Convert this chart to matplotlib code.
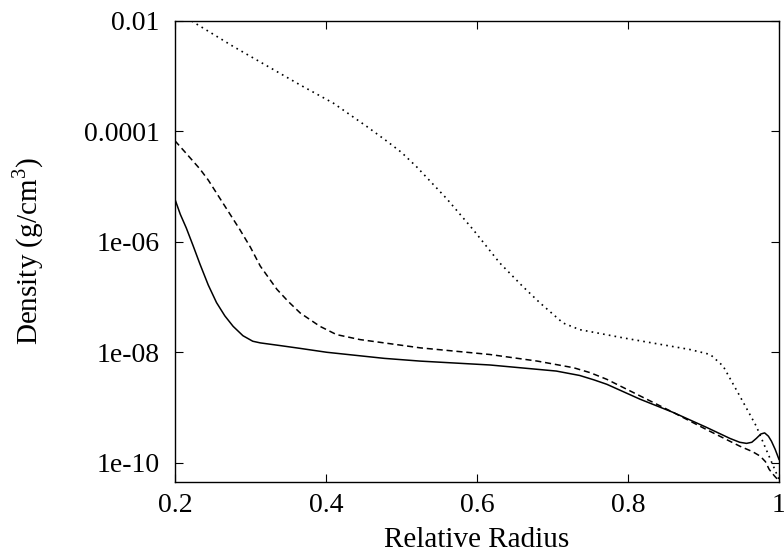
import numpy as np
import matplotlib.pyplot as plt

plt.rcParams['font.family'] = ['Liberation Serif', 'DejaVu Serif']
plt.rcParams['mathtext.fontset'] = 'custom'
plt.rcParams['mathtext.rm'] = 'Liberation Serif'

# radius samples and log10 density for each model
r_solid = [0.2, 0.207, 0.215, 0.224, 0.233, 0.244, 0.255, 0.266, 0.277, 0.29, 0.303, 0.313,
           0.34, 0.366, 0.401, 0.477, 0.525, 0.617, 0.705, 0.736, 0.755, 0.772, 0.816, 0.86,
           0.904, 0.935, 0.948, 0.957, 0.964, 0.970, 0.976, 0.981, 0.986, 0.990, 0.995, 1.0]
logrho_solid = [-5.23, -5.5, -5.75, -6.07, -6.4, -6.78, -7.1, -7.34, -7.53, -7.7, -7.8, -7.83,
                -7.88, -7.93, -8.0, -8.11, -8.16, -8.23, -8.34, -8.42, -8.5, -8.58, -8.85, -9.09,
                -9.36, -9.56, -9.63, -9.65, -9.63, -9.56, -9.48, -9.46, -9.52, -9.61, -9.76, -9.94]

r_dashed = [0.2, 0.215, 0.233, 0.244, 0.265, 0.286, 0.3, 0.313, 0.335, 0.35, 0.366, 0.392,
            0.414, 0.445, 0.525, 0.617, 0.68, 0.728, 0.75, 0.772, 0.816, 0.86, 0.904,
            0.948, 0.965, 0.975, 0.982, 0.987, 0.994, 1.0]
logrho_dashed = [-4.17, -4.4, -4.68, -4.88, -5.33, -5.78, -6.1, -6.44, -6.86, -7.08, -7.29, -7.53,
                 -7.68, -7.77, -7.92, -8.04, -8.16, -8.28, -8.37, -8.49, -8.79, -9.09, -9.4,
                 -9.7, -9.8, -9.88, -9.98, -10.12, -10.24, -10.33]

r_dotted = [0.222, 0.277, 0.366, 0.41, 0.454, 0.48, 0.5, 0.52, 0.56, 0.595, 0.63, 0.66, 0.683,
            0.714, 0.736, 0.794, 0.882, 0.909, 0.926, 0.948, 0.970, 0.983, 1.0]
logrho_dotted = [-2.0, -2.46, -3.16, -3.49, -3.91, -4.17, -4.38, -4.64, -5.22, -5.78, -6.38, -6.8, -7.1,
                 -7.47, -7.59, -7.74, -7.95, -8.04, -8.25, -8.79, -9.34, -9.76, -10.3]

x_ticks = [0.2, 0.4, 0.6, 0.8, 1.0]
x_labels = ['0.2', '0.4', '0.6', '0.8', '1']
y_ticks = [1e-2, 1e-4, 1e-6, 1e-8, 1e-10]
y_labels = ['0.01', '0.0001', '1e-06', '1e-08', '1e-10']

fig = plt.figure(figsize=(7.84, 5.57), dpi=100)
ax = fig.add_axes([0.2232, 0.1341, 0.7704, 0.8282])

ax.plot(r_solid, 10 ** np.array(logrho_solid), color='black', lw=1.1, ls='-')
ax.plot(r_dashed, 10 ** np.array(logrho_dashed), color='black', lw=1.1, ls=(0, (4, 2.5)))
ax.plot(r_dotted, 10 ** np.array(logrho_dotted), color='black', lw=1.2, ls=(0, (1, 2.5)))

ax.set_yscale('log')
ax.set_xlim(0.2, 1.0)
ax.set_ylim(10 ** -10.355, 1e-2)
ax.set_xticks(x_ticks, x_labels)
ax.set_yticks(y_ticks, y_labels)
ax.minorticks_off()
ax.tick_params(direction='in', length=6, width=0.8, top=True, right=True, labelsize=20)
ax.tick_params(axis='x', pad=8)
ax.tick_params(axis='y', pad=11)
for s in ax.spines.values():
    s.set_linewidth(1.0)

ax.set_xlabel('Relative Radius', fontsize=21, labelpad=6)
ax.set_ylabel(r'Density (g/cm$^3$)', fontsize=21, labelpad=27)

fig.savefig('out.png', dpi=100)
